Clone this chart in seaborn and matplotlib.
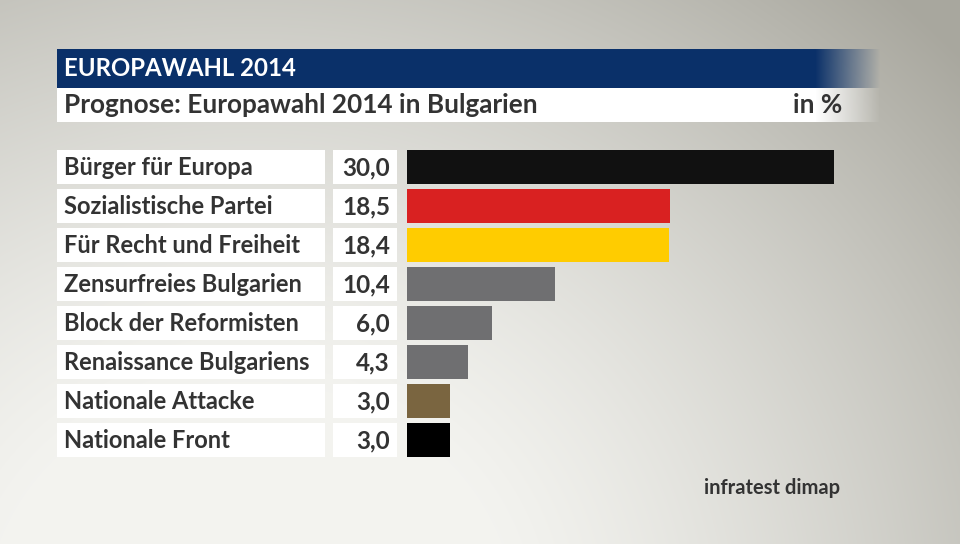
import numpy as np
import pandas as pd
import matplotlib
matplotlib.use("Agg")
import matplotlib.pyplot as plt
import matplotlib.transforms as mtransforms
from matplotlib.patches import Rectangle
import seaborn as sns

parties = ["Bürger für Europa", "Sozialistische Partei", "Für Recht und Freiheit",
           "Zensurfreies Bulgarien", "Block der Reformisten", "Renaissance Bulgariens",
           "Nationale Attacke", "Nationale Front"]
values = [30.0, 18.5, 18.4, 10.4, 6.0, 4.3, 3.0, 3.0]
colors = ["#111111", "#d92121", "#ffcc00", "#6f6f71", "#6f6f71", "#6f6f71", "#7a6540", "#000000"]
value_labels = ["30,0", "18,5", "18,4", "10,4", "6,0", "4,3", "3,0", "3,0"]
header = "EUROPAWAHL 2014"
subtitle = "Prognose: Europawahl 2014 in Bulgarien"
unit = "in %"
source = "infratest dimap"

sns.set_theme(style="white")
plt.rcParams['font.family'] = ['Lato', 'DejaVu Sans']

W, H = 960, 544
fig = plt.figure(figsize=(W / 100, H / 100), dpi=100)

# background gradient
bg = fig.add_axes([0, 0, 1, 1])
yy, xx = np.mgrid[0:H, 0:W]
d = np.sqrt(((xx - 250) / 1.0) ** 2 + ((yy - 620) / 0.9) ** 2)
t = np.clip((d - 250) / 700, 0, 1) ** 1.3
light = np.array([0.955, 0.955, 0.94])
dark = np.array([0.66, 0.655, 0.62])
img = light[None, None, :] * (1 - t[..., None]) + dark[None, None, :] * t[..., None]
bg.imshow(img, extent=[0, W, H, 0], aspect="auto")
bg.set_xlim(0, W)
bg.set_ylim(H, 0)
bg.axis("off")

# header bands with fade on right
def band(y0, y1, rgb):
    x0, x1, f0, f1 = 57, 880, 815, 880
    xs = np.arange(x0, x1)
    alpha = np.clip((f1 - xs) / (f1 - f0), 0, 1)
    arr = np.zeros((1, len(xs), 4))
    arr[..., :3] = rgb
    arr[..., 3] = alpha
    bg.imshow(arr, extent=[x0, x1, y1, y0], aspect="auto", zorder=2)

band(49, 88, np.array([10, 48, 105]) / 255)
band(88, 122, np.array([1.0, 1.0, 1.0]))
bg.set_xlim(0, W)
bg.set_ylim(H, 0)
bg.text(64, 69, header, color="white", fontsize=17.3, fontweight="bold", va="center", ha="left", zorder=3)
bg.text(64, 105, subtitle, color="#333333", fontsize=18.8, fontweight="bold", va="center", ha="left", zorder=3)
bg.text(842, 105, unit, color="#333333", fontsize=18.8, fontweight="bold", va="center", ha="right", zorder=3)
bg.text(840, 488, source, color="#333333", fontsize=14.5, fontweight="bold", va="center", ha="right", zorder=3)

# bar axes
top_px, bot_px = 147.4, 459.7
left_px, right_px = 407, 834
ax = fig.add_axes([left_px / W, 1 - bot_px / H, (right_px - left_px) / W, (bot_px - top_px) / H])
ax.patch.set_alpha(0)
df = pd.DataFrame({"party": parties, "value": values})
sns.barplot(data=df, x="value", y="party", hue="party", palette=colors, legend=False,
            orient="h", width=0.865, ax=ax, saturation=1, linewidth=0)
ax.set_xlim(0, 30)
ax.set_ylim(len(parties) - 0.5, -0.5)
ax.axis("off")

blend = mtransforms.blended_transform_factory(fig.transFigure, ax.transData)
bh = 0.865
for i, (p, vl) in enumerate(zip(parties, value_labels)):
    ax.add_patch(Rectangle((57 / W, i - bh / 2), 268 / W, bh, transform=blend,
                           facecolor="white", edgecolor="none", clip_on=False))
    ax.add_patch(Rectangle((333 / W, i - bh / 2), 64 / W, bh, transform=blend,
                           facecolor="white", edgecolor="none", clip_on=False))
    ax.text(64 / W, i + 0.02, p, transform=blend, ha="left", va="center",
            fontsize=17, fontweight="bold", color="#333333", clip_on=False)
    ax.text(390 / W, i + 0.02, vl, transform=blend, ha="right", va="center",
            fontsize=17.5, fontweight="bold", color="#333333", clip_on=False)

fig.savefig("out.png", dpi=100)
